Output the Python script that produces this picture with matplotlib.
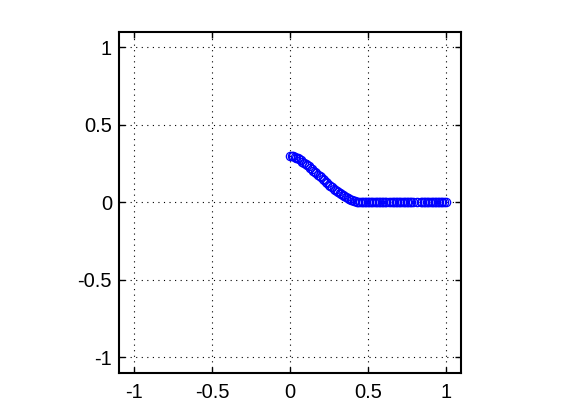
import matplotlib
matplotlib.use('Agg')
import matplotlib.pyplot as plt

plt.rcParams['font.family'] = ['Liberation Sans', 'DejaVu Sans']
plt.rcParams['axes.unicode_minus'] = False

# points (curve part, then the flat tail)
x_curve = [0.00, 0.01, 0.02, 0.03, 0.04, 0.05, 0.06, 0.07, 0.08, 0.09,
           0.10, 0.11, 0.12, 0.13, 0.14, 0.15, 0.16, 0.17, 0.18, 0.19,
           0.20, 0.21, 0.22, 0.23, 0.24, 0.25, 0.26, 0.27, 0.28, 0.29,
           0.30, 0.31, 0.32, 0.33, 0.34, 0.35, 0.36, 0.37, 0.38, 0.39,
           0.40, 0.41, 0.42, 0.43, 0.44, 0.45, 0.46]
y_curve = [0.300, 0.300, 0.297, 0.293, 0.289, 0.284, 0.278, 0.271, 0.264, 0.257,
           0.250, 0.241, 0.232, 0.223, 0.214, 0.205, 0.197, 0.188, 0.180, 0.171,
           0.163, 0.153, 0.143, 0.134, 0.124, 0.115, 0.106, 0.097, 0.089, 0.081,
           0.073, 0.066, 0.059, 0.052, 0.046, 0.040, 0.034, 0.028, 0.023, 0.018,
           0.013, 0.010, 0.007, 0.005, 0.003, 0.002, 0.001]
x_tail = [0.47, 0.48, 0.49, 0.50, 0.51, 0.52, 0.53, 0.54, 0.55, 0.56, 0.57,
          0.58, 0.59, 0.60, 0.61, 0.62, 0.635, 0.65, 0.66, 0.67, 0.68, 0.69,
          0.70, 0.71, 0.72, 0.73, 0.74, 0.75, 0.76, 0.77, 0.78, 0.79, 0.815,
          0.84, 0.85, 0.86, 0.87, 0.88, 0.89, 0.90, 0.91, 0.92, 0.93, 0.94,
          0.95, 0.96, 0.97, 0.98, 0.99, 1.00]
y_tail = [0.0] * len(x_tail)

ticks = [-1, -0.5, 0, 0.5, 1]
tick_labels = ['-1', '-0.5', '0', '0.5', '1']

fig = plt.figure(figsize=(5.61, 4.2), dpi=100)
ax = fig.add_axes([0.212, 0.112, 0.610, 0.812])

ax.plot(x_curve + x_tail, y_curve + y_tail, 'o', color='#0000ff',
        markerfacecolor='none', markersize=6, markeredgewidth=0.9)

ax.set_xlim(-1.1, 1.1)
ax.set_ylim(-1.1, 1.1)
ax.set_xticks(ticks)
ax.set_yticks(ticks)
ax.set_xticklabels(tick_labels)
ax.set_yticklabels(tick_labels)
ax.tick_params(direction='in', top=True, right=True, labelsize=14.5,
               length=4, width=1)
ax.tick_params(axis='x', pad=7)
ax.tick_params(axis='y', pad=5)
ax.grid(True, linestyle=(0, (1, 4)), color='black', linewidth=0.8)
for s in ax.spines.values():
    s.set_linewidth(1.5)

fig.savefig('out.png', dpi=100)
